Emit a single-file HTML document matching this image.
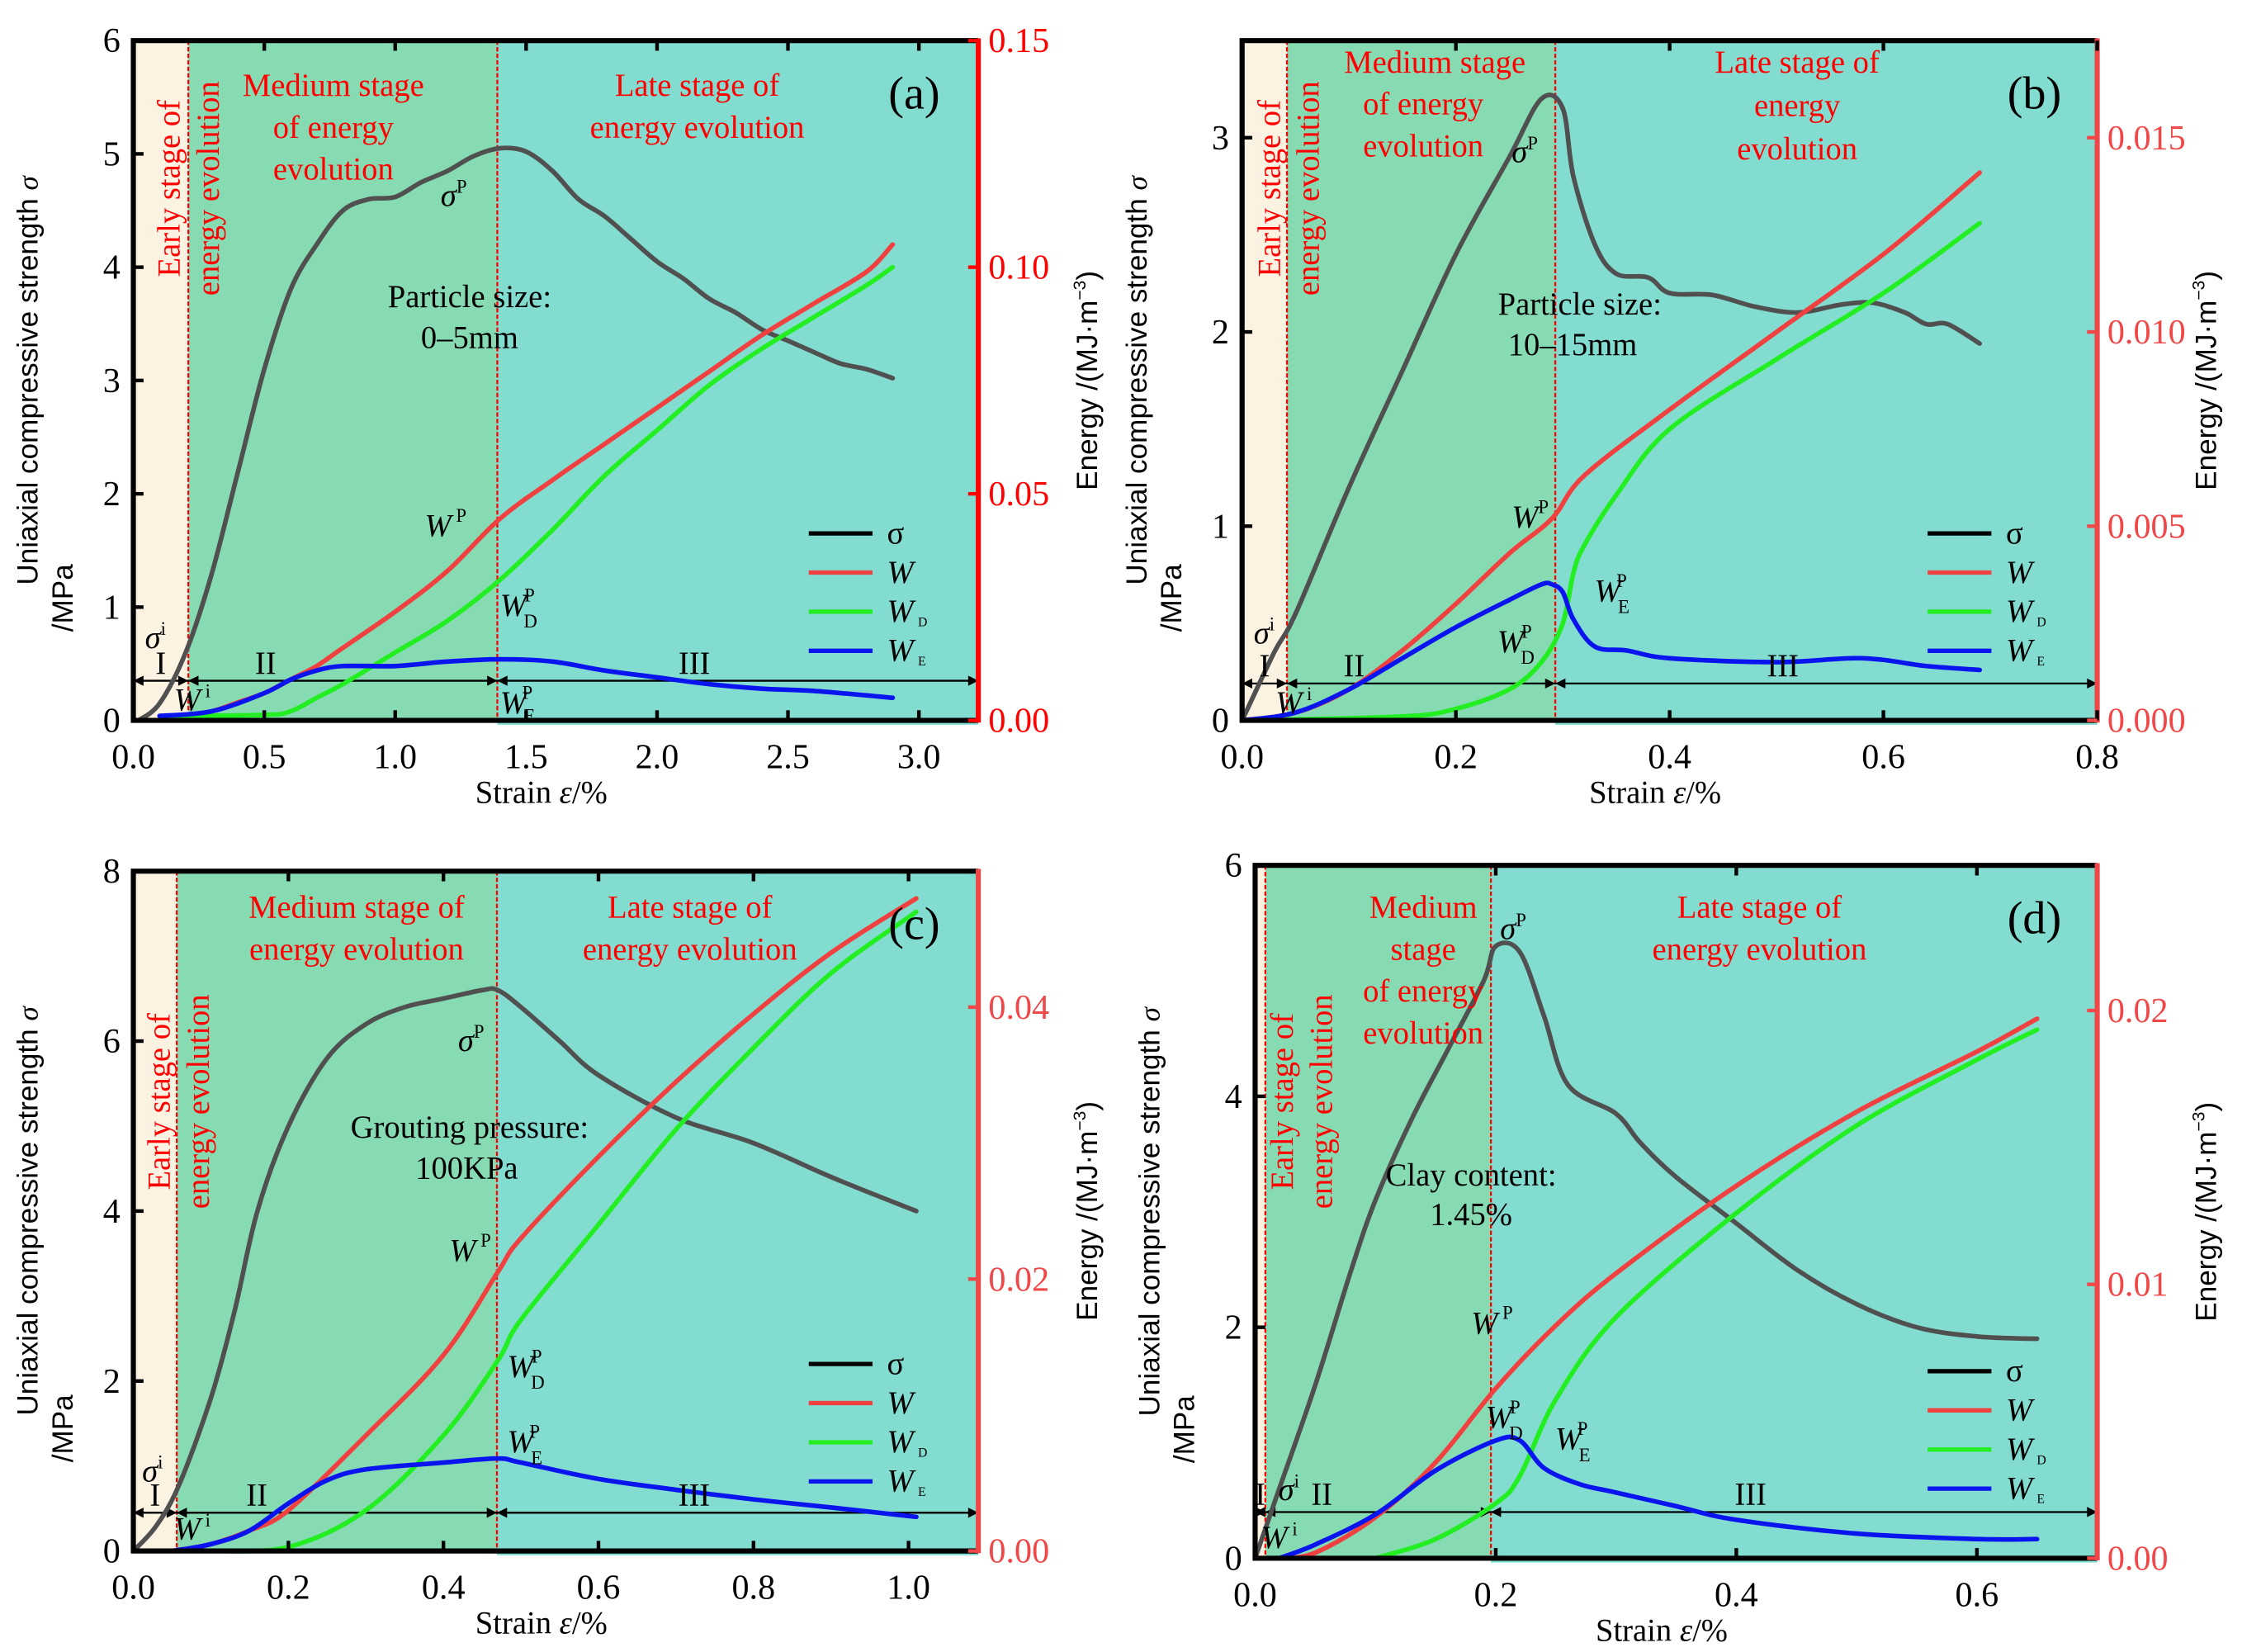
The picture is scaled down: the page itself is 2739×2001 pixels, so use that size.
<!DOCTYPE html>
<html><head><meta charset="utf-8"><style>
html,body{margin:0;padding:0;background:#fff}
svg{display:block}
text{font-family:"Liberation Serif",serif}
.sans{font-family:"Liberation Sans",sans-serif}
</style></head><body>
<svg id="fig" width="2739" height="2001" viewBox="0 0 1560 1139.7" xmlns="http://www.w3.org/2000/svg"></svg>
<script>
// ---- Panel (a) data ----
const aX_sig=[0.02,0.1,0.2,0.3,0.4,0.5,0.6,0.7,0.8,0.9,1.0,1.1,1.2,1.3,1.4,1.5,1.6,1.7,1.8,1.9,2.0,2.1,2.2,2.3,2.4,2.5,2.6,2.7,2.8,2.9];
const aY_sig=[0,0.15,0.6,1.3,2.2,3.1,3.8,4.2,4.5,4.6,4.62,4.75,4.85,4.98,5.05,5.02,4.85,4.6,4.45,4.25,4.05,3.9,3.72,3.6,3.45,3.35,3.25,3.15,3.1,3.02];
const aX_W=[0.1,0.2,0.3,0.4,0.5,0.6,0.7,0.8,1.0,1.2,1.4,1.6,1.8,2.0,2.2,2.4,2.6,2.8,2.9];
const aY_W=[0.001,0.001,0.002,0.004,0.006,0.009,0.012,0.016,0.024,0.033,0.0445,0.053,0.061,0.069,0.077,0.085,0.092,0.099,0.105];
const aX_WD=[0.1,0.5,0.6,0.7,0.8,1.0,1.2,1.4,1.6,1.8,2.0,2.2,2.4,2.6,2.8,2.9];
const aY_WD=[0.001,0.0012,0.002,0.005,0.008,0.015,0.022,0.031,0.042,0.054,0.064,0.074,0.082,0.089,0.096,0.100];
const aX_WE=[0.1,0.3,0.5,0.6,0.7,0.8,1.0,1.2,1.4,1.6,1.8,2.0,2.2,2.4,2.6,2.9];
const aY_WE=[0.001,0.002,0.006,0.009,0.011,0.012,0.012,0.013,0.0135,0.013,0.011,0.0095,0.008,0.007,0.0065,0.005];
// ---- Panel (b) data ----
const bX_sig=[0,0.03,0.05,0.1,0.15,0.2,0.25,0.28,0.3,0.31,0.33,0.35,0.38,0.4,0.44,0.48,0.52,0.56,0.59,0.62,0.64,0.66,0.69];
const bY_sig=[0,0.35,0.55,1.2,1.8,2.4,2.9,3.2,3.15,2.8,2.45,2.3,2.28,2.2,2.19,2.13,2.1,2.14,2.15,2.1,2.04,2.04,1.94];
const bX_W=[0,0.05,0.1,0.15,0.2,0.25,0.29,0.32,0.4,0.5,0.6,0.69];
const bY_W=[0,0.0002,0.0008,0.0018,0.003,0.0043,0.0052,0.0063,0.008,0.01,0.012,0.0141];
const bX_WD=[0,0.15,0.2,0.25,0.28,0.3,0.31,0.32,0.35,0.4,0.5,0.6,0.69];
const bY_WD=[0,0.0001,0.0003,0.0008,0.0015,0.0025,0.0038,0.0045,0.0058,0.0075,0.0093,0.011,0.0128];
const bX_WE=[0,0.05,0.1,0.15,0.2,0.25,0.28,0.29,0.3,0.31,0.33,0.36,0.4,0.5,0.58,0.64,0.69];
const bY_WE=[0,0.0002,0.0008,0.0016,0.0024,0.0031,0.0035,0.0035,0.0033,0.0026,0.0019,0.0018,0.0016,0.0015,0.0016,0.0014,0.0013];
// ---- Panel (c) data ----
const cX_sig=[0,0.03,0.06,0.1,0.13,0.16,0.2,0.25,0.3,0.35,0.4,0.45,0.47,0.5,0.55,0.6,0.7,0.8,0.9,1.01];
const cY_sig=[0,0.3,0.8,1.8,2.8,4.0,5.0,5.8,6.2,6.4,6.5,6.6,6.6,6.4,6.0,5.6,5.1,4.8,4.4,4.0];
const cX_W=[0.05,0.1,0.15,0.2,0.3,0.4,0.47,0.5,0.6,0.7,0.8,0.9,1.01];
const cY_W=[0,0.0005,0.0015,0.003,0.0085,0.0144,0.0205,0.023,0.029,0.0345,0.0395,0.044,0.048];
const cX_WD=[0.1,0.2,0.3,0.4,0.47,0.5,0.6,0.7,0.8,0.9,1.01];
const cY_WD=[0,0.0003,0.003,0.0085,0.014,0.017,0.024,0.031,0.037,0.0425,0.047];
const cX_WE=[0.05,0.1,0.15,0.2,0.25,0.3,0.4,0.47,0.5,0.6,0.7,0.8,0.9,1.01];
const cY_WE=[0,0.0005,0.0015,0.0035,0.0052,0.006,0.0065,0.0068,0.0065,0.0053,0.0045,0.0038,0.0032,0.0025];
// ---- Panel (d) data ----
const dX_sig=[0,0.02,0.05,0.08,0.1,0.13,0.16,0.19,0.2,0.22,0.24,0.26,0.3,0.32,0.35,0.4,0.45,0.5,0.55,0.6,0.65];
const dY_sig=[0,0.6,1.5,2.5,3.1,3.8,4.4,5.0,5.3,5.25,4.7,4.1,3.85,3.6,3.3,2.9,2.5,2.2,2.0,1.92,1.9];
const dX_W=[0.02,0.05,0.1,0.15,0.2,0.25,0.3,0.4,0.5,0.6,0.65];
const dY_W=[0,0.0002,0.0015,0.0035,0.0062,0.0085,0.0104,0.0136,0.0163,0.0185,0.0197];
const dX_WD=[0.1,0.15,0.2,0.22,0.25,0.3,0.4,0.5,0.6,0.65];
const dY_WD=[0,0.0007,0.002,0.003,0.0058,0.0088,0.0126,0.0158,0.0182,0.0193];
const dX_WE=[0.02,0.05,0.1,0.15,0.2,0.22,0.24,0.27,0.3,0.35,0.4,0.5,0.6,0.65];
const dY_WE=[0,0.0005,0.0016,0.0032,0.0043,0.0043,0.0033,0.0027,0.0024,0.0019,0.0014,0.0009,0.0007,0.0007];

const NS="http://www.w3.org/2000/svg";
const svg=document.getElementById('fig');
function el(tag,attrs,parent,txt){const e=document.createElementNS(NS,tag);for(const k in attrs)e.setAttribute(k,attrs[k]);if(txt!==undefined)e.textContent=txt;(parent||svg).appendChild(e);return e;}
function smooth(pts){
 let d='M'+pts[0][0].toFixed(1)+' '+pts[0][1].toFixed(1);
 for(let i=0;i<pts.length-1;i++){
  const p0=pts[Math.max(0,i-1)],p1=pts[i],p2=pts[i+1],p3=pts[Math.min(pts.length-1,i+2)];
  const c1=[p1[0]+(p2[0]-p0[0])/6,p1[1]+(p2[1]-p0[1])/6];
  const c2=[p2[0]-(p3[0]-p1[0])/6,p2[1]-(p3[1]-p1[1])/6];
  d+=` C${c1[0].toFixed(1)} ${c1[1].toFixed(1)} ${c2[0].toFixed(1)} ${c2[1].toFixed(1)} ${p2[0].toFixed(1)} ${p2[1].toFixed(1)}`;
 }
 return d;
}

const panels=[
 {id:'a',L:92,R:675,T:28,B:497,xmax:3.227,ymax:6,emax:0.15,xt:[0,0.5,1,1.5,2,2.5,3],xf:1,yt:[0,1,2,3,4,5,6],et:[0,0.05,0.10,0.15],ef:2,b1:0.21,b2:1.39,arrowY:0.35,raxis:'#ff0000',rtext:'#ff0000',
  sig:[aX_sig,aY_sig],W:[aX_W,aY_W],WD:[aX_WD,aY_WD],WE:[aX_WE,aY_WE]},
 {id:'b',L:857,R:1447,T:28,B:497,xmax:0.8,ymax:3.5,emax:0.0175,xt:[0,0.2,0.4,0.6,0.8],xf:1,yt:[0,1,2,3],et:[0,0.005,0.010,0.015],ef:3,b1:0.042,b2:0.293,arrowY:0.19,raxis:'#f04848',rtext:'#f04848',
  sig:[bX_sig,bY_sig],W:[bX_W,bY_W],WD:[bX_WD,bY_WD],WE:[bX_WE,bY_WE]},
 {id:'c',L:92,R:675,T:601,B:1070,xmax:1.09,ymax:8,emax:0.05,xt:[0,0.2,0.4,0.6,0.8,1.0],xf:1,yt:[0,2,4,6,8],et:[0,0.02,0.04],ef:2,b1:0.056,b2:0.469,arrowY:0.45,raxis:'#f04848',rtext:'#f04848',
  sig:[cX_sig,cY_sig],W:[cX_W,cY_W],WD:[cX_WD,cY_WD],WE:[cX_WE,cY_WE]},
 {id:'d',L:866,R:1447,T:597,B:1075,xmax:0.7,ymax:6,emax:0.0253,xt:[0,0.2,0.4,0.6],xf:1,yt:[0,2,4,6],et:[0,0.01,0.02],ef:2,b1:0.0085,b2:0.196,arrowY:0.4,raxis:'#f04848',rtext:'#f04848',
  sig:[dX_sig,dY_sig],W:[dX_W,dY_W],WD:[dX_WD,dY_WD],WE:[dX_WE,dY_WE]}
];

panels.forEach(p=>{
 const g=el('g',{});
 
 
 const sx=v=>p.L+v/p.xmax*(p.R-p.L);
 const sy=v=>p.B-v/p.ymax*(p.B-p.T);
 const se=v=>p.B-v/p.emax*(p.B-p.T);
 const r1=el('rect',{x:p.L,y:p.T,width:sx(p.b1)-p.L,height:p.B-p.T,fill:'#fbf2e2'},g);
 
 const r2=el('rect',{x:sx(p.b1),y:p.T,width:sx(p.b2)-sx(p.b1),height:p.B-p.T,fill:'#87dbb3'},g);
 
 const r3=el('rect',{x:sx(p.b2),y:p.T,width:p.R-sx(p.b2),height:p.B-p.T+3,fill:'#82dccf'},g);
 
 [p.b1,p.b2].forEach((b,i)=>{const l=el('line',{x1:sx(b),x2:sx(b),y1:p.T,y2:p.B,stroke:'#ff0000','stroke-width':1.3,'stroke-dasharray':'3,1.5'},g);
  });
 const ay=sy(p.arrowY);
 const al=el('line',{x1:p.L,x2:p.R,y1:ay,y2:ay,stroke:'#000','stroke-width':1.3},g);
 
 [[sx(p.b1),-1],[sx(p.b1),1],[sx(p.b2),-1],[sx(p.b2),1],[p.L,-1],[p.R,1]].forEach(([x,d])=>{
  const a=el('path',{d:`M${x} ${ay} l${-d*7} -3.5 l0 7z`,fill:'#000'},g);
  });
 const series=[['sig','#505050',p.sig,sy],['W','#f04040',p.W,se],['WD','#22ee22',p.WD,se],['WE','#0a14ee',p.WE,se]];
 series.forEach(([nm,col,dat,f])=>{
  const pts=dat[0].map((x,i)=>[sx(x),f(dat[1][i])]);
  const pth=el('path',{d:smooth(pts),fill:'none',stroke:col,'stroke-width':3.2,'stroke-linejoin':'round','stroke-linecap':'round'},g);
  
 });
 const fr=el('path',{d:`M${p.R} ${p.T} L${p.L} ${p.T} L${p.L} ${p.B} L${p.R} ${p.B}`,fill:'none',stroke:'#000','stroke-width':3.5},g);
 
 const ra=el('line',{x1:p.R,x2:p.R,y1:p.T-1.5,y2:p.B+1.5,stroke:p.raxis,'stroke-width':3.5},g);
 
 p.xt.forEach(v=>{const x=sx(v);
  el('line',{x1:x,x2:x,y1:p.B,y2:p.B-7,stroke:'#000','stroke-width':2.5},g);
  el('line',{x1:x,x2:x,y1:p.T,y2:p.T+7,stroke:'#000','stroke-width':2.5},g);
  const t=el('text',{x:x,y:p.B+33,'font-size':24,'text-anchor':'middle'},g,v.toFixed(p.xf));
  });
 p.yt.forEach(v=>{const y=sy(v);
  el('line',{x1:p.L,x2:p.L+7,y1:y,y2:y,stroke:'#000','stroke-width':2.5},g);
  const t=el('text',{x:p.L-9,y:y+8,'font-size':24,'text-anchor':'end'},g,String(v));
  });
 p.et.forEach(v=>{const y=se(v);
  el('line',{x1:p.R-7,x2:p.R,y1:y,y2:y,stroke:p.raxis,'stroke-width':2.5},g);
  const t=el('text',{x:p.R+7,y:y+8,'font-size':24,fill:p.rtext},g,v.toFixed(p.ef));
  });
 const xt=el('text',{x:(p.L+p.R)/2-10,y:p.B+57,'font-size':22,'text-anchor':'middle'},g);
 
 xt.innerHTML='Strain <tspan font-style="italic">ε</tspan>/%';
 const cy=(p.T+p.B)/2;
 const yt=el('text',{transform:`translate(${p.L-66},${cy}) rotate(-90)`,'font-size':20,'text-anchor':'middle',class:'sans'},g);
 
 yt.innerHTML=`<tspan x="0" y="0">Uniaxial compressive strength <tspan font-family="Liberation Serif" font-style="italic">σ</tspan></tspan><tspan x="-150" y="24">/MPa</tspan>`;
 const et=el('text',{transform:`translate(${p.R+82},${cy}) rotate(-90)`,'font-size':20,'text-anchor':'middle',class:'sans'},g);
 
 et.innerHTML='Energy /(MJ·m<tspan font-size="12" dy="-8">−3</tspan><tspan dy="8">)</tspan>';
 const lx=p.R-117, ly=p.B-129;
 [['σ','#000',''],['W','#f04040',''],['W','#22ee22','D'],['W','#0a14ee','E']].forEach(([s,c,sub],i)=>{
  const y=ly+i*27;
  const ll=el('line',{x1:lx,x2:lx+44,y1:y,y2:y,stroke:c,'stroke-width':3},g);
  
  const t=el('text',{x:lx+54,y:y+7,'font-size':22,'font-style':i?'italic':'normal'},g);
  
  t.innerHTML=s+(sub?`<tspan font-size="9" font-style="normal" dx="3" dy="3">${sub}</tspan>`:'');
 });
 const pl=el('text',{x:p.R-62,y:p.T+47,'font-size':32},g,'('+p.id+')');
 
 [['I',(p.L+sx(p.b1))/2],['II',sx(p.b1)+(sx(p.b2)-sx(p.b1))*0.25],['III',(sx(p.b2)+p.R)*0.5-30]].forEach(([s,x])=>{
  const t=el('text',{x:x,y:ay-5,'font-size':22,'text-anchor':'middle'},g,s);
  });
});

function txt(x,y,s,opt,name){const t=el('text',Object.assign({x:x,y:y,'font-size':22},opt||{}));t.innerHTML=s;
 
 return t;}
const red={fill:'#ff0000','text-anchor':'middle'};
function vtext(x,y,lines,name){const t=el('text',{transform:`translate(${x},${y}) rotate(-90)`,'font-size':22,fill:'#ff0000','text-anchor':'middle'});
 t.innerHTML=lines.map((l,i)=>`<tspan x="0" y="${i*27}">${l}</tspan>`).join('');
 
 }
// (a)
txt(230,66,'Medium stage',red,'medium-stage-title');txt(230,95,'of energy',red,'medium-stage-title');txt(230,124,'evolution',red,'medium-stage-title');
txt(481,66,'Late stage of',red,'late-stage-title');txt(481,95,'energy evolution',red,'late-stage-title');
vtext(124,130,['Early stage of','energy evolution'],'early-stage-title');
txt(324,212,'Particle size:',{'text-anchor':'middle'},'condition-label');txt(324,240,'0–5mm',{'text-anchor':'middle'},'condition-label');
txt(304,142,'<tspan font-style="italic">σ</tspan><tspan font-size="13" dy="-9">P</tspan>');
txt(293,370,'<tspan font-style="italic">W</tspan><tspan font-size="13" dy="-10"> P</tspan>');
txt(345,425,'<tspan font-style="italic">W</tspan><tspan font-size="13" dx="-2" dy="8">D</tspan><tspan font-size="13" dx="-9" dy="-18">P</tspan>');
txt(345,492,'<tspan font-style="italic">W</tspan><tspan font-size="13" dx="-2" dy="6">E</tspan><tspan font-size="13" dx="-9" dy="-16">P</tspan>');
txt(100,447,'<tspan font-style="italic">σ</tspan><tspan font-size="13" dy="-9">i</tspan>');
txt(120,490,'<tspan font-style="italic">W</tspan><tspan font-size="13" dy="-9"> i</tspan>');
// (b)
txt(990,50,'Medium stage',red,'medium-stage-title');txt(982,79,'of energy',red,'medium-stage-title');txt(982,108,'evolution',red,'medium-stage-title');
txt(1240,50,'Late stage of',red,'late-stage-title');txt(1240,80,'energy',red,'late-stage-title');txt(1240,110,'evolution',red,'late-stage-title');
vtext(883,130,['Early stage of','energy evolution'],'early-stage-title');
txt(1090,217,'Particle size:',{'text-anchor':'middle'},'condition-label');txt(1085,245,'10–15mm',{'text-anchor':'middle'},'condition-label');
txt(1043,112,'<tspan font-style="italic">σ</tspan><tspan font-size="13" dy="-9">P</tspan>');
txt(1043,364,'<tspan font-style="italic">W</tspan><tspan font-size="13" dy="-10">P</tspan>');
txt(1033,450,'<tspan font-style="italic">W</tspan><tspan font-size="13" dx="-2" dy="8">D</tspan><tspan font-size="13" dx="-9" dy="-18">P</tspan>');
txt(1100,415,'<tspan font-style="italic">W</tspan><tspan font-size="13" dx="-2" dy="8">E</tspan><tspan font-size="13" dx="-9" dy="-18">P</tspan>');
txt(865,444,'<tspan font-style="italic">σ</tspan><tspan font-size="13" dy="-9">i</tspan>');
txt(880,492,'<tspan font-style="italic">W</tspan><tspan font-size="13" dy="-9"> i</tspan>');
// (c)
txt(246,633,'Medium stage of',red,'medium-stage-title');txt(246,662,'energy evolution',red,'medium-stage-title');
txt(476,633,'Late stage of',red,'late-stage-title');txt(476,662,'energy evolution',red,'late-stage-title');
vtext(117,760,['Early stage of','energy evolution'],'early-stage-title');
txt(324,785,'Grouting pressure:',{'text-anchor':'middle'},'condition-label');txt(322,813,'100KPa',{'text-anchor':'middle'},'condition-label');
txt(316,725,'<tspan font-style="italic">σ</tspan><tspan font-size="13" dy="-9">P</tspan>');
txt(310,870,'<tspan font-style="italic">W</tspan><tspan font-size="13" dy="-10"> P</tspan>');
txt(350,950,'<tspan font-style="italic">W</tspan><tspan font-size="13" dx="-2" dy="8">D</tspan><tspan font-size="13" dx="-9" dy="-18">P</tspan>');
txt(350,1002,'<tspan font-style="italic">W</tspan><tspan font-size="13" dx="-2" dy="8">E</tspan><tspan font-size="13" dx="-9" dy="-18">P</tspan>');
txt(98,1022,'<tspan font-style="italic">σ</tspan><tspan font-size="13" dy="-9">i</tspan>');
txt(120,1062,'<tspan font-style="italic">W</tspan><tspan font-size="13" dy="-9"> i</tspan>');
// (d)
txt(982,633,'Medium',red,'medium-stage-title');txt(982,662,'stage',red,'medium-stage-title');txt(982,691,'of energy',red,'medium-stage-title');txt(982,720,'evolution',red,'medium-stage-title');
txt(1214,633,'Late stage of',red,'late-stage-title');txt(1214,662,'energy evolution',red,'late-stage-title');
vtext(892,760,['Early stage of','energy evolution'],'early-stage-title');
txt(1015,818,'Clay content:',{'text-anchor':'middle'},'condition-label');txt(1015,845,'1.45%',{'text-anchor':'middle'},'condition-label');
txt(1035,648,'<tspan font-style="italic">σ</tspan><tspan font-size="13" dy="-9">P</tspan>');
txt(1015,920,'<tspan font-style="italic">W</tspan><tspan font-size="13" dy="-10"> P</tspan>');
txt(1025,985,'<tspan font-style="italic">W</tspan><tspan font-size="13" dx="-2" dy="8">D</tspan><tspan font-size="13" dx="-9" dy="-18">P</tspan>');
txt(1073,1000,'<tspan font-style="italic">W</tspan><tspan font-size="13" dx="-2" dy="8">E</tspan><tspan font-size="13" dx="-9" dy="-18">P</tspan>');
txt(882,1035,'<tspan font-style="italic">σ</tspan><tspan font-size="13" dy="-9">i</tspan>');
txt(870,1068,'<tspan font-style="italic">W</tspan><tspan font-size="13" dy="-9"> i</tspan>');
</script>
</body></html>
